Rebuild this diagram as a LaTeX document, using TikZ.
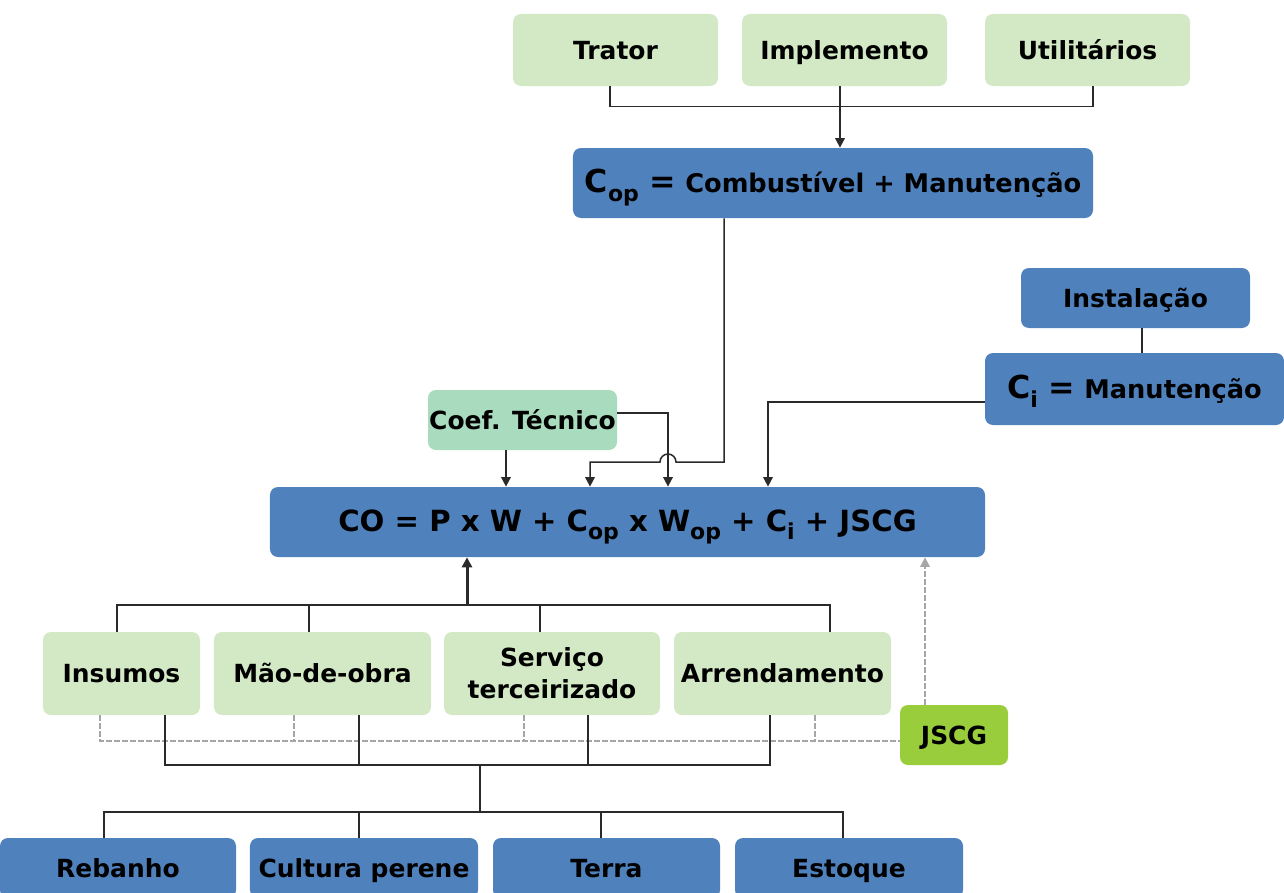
\documentclass[tikz,border=0pt]{standalone}
\usepackage{fontspec}
\setmainfont{DejaVu Sans}
\usepackage{tikz}
\usetikzlibrary{arrows.meta,positioning}
\definecolor{boxblue}{HTML}{4F81BD}
\definecolor{boxgreen}{HTML}{D3E9C6}
\definecolor{coefgreen}{HTML}{A9DBBE}
\definecolor{jscggreen}{HTML}{9ACD3C}
\definecolor{linegray}{HTML}{2A2A2A}
\newcommand{\idx}[1]{\raisebox{-0.5ex}{\fontsize{12.5}{12}\selectfont #1}}
\tikzset{
  base/.style={rounded corners=1.6mm,inner sep=0pt,align=center,
    font=\fontsize{14.2}{18}\selectfont\bfseries},
  oneline/.style={base,text height=2.35ex,text depth=0.4ex},
  bluebox/.style={oneline,fill=boxblue},
  greenbox/.style={oneline,fill=boxgreen},
  link/.style={draw=linegray,line width=0.3mm},
  arr/.style={link,-{Triangle[length=1.9mm,width=1.9mm]}},
  dashlink/.style={draw=gray!70,line width=0.3mm,dash pattern=on 1.2mm off 0.4mm}
}

\begin{document}
\begin{tikzpicture}[x=0.2mm,y=-0.2mm]
  \useasboundingbox (0,0) rectangle (1284,893);
  % machines
  \node[greenbox,minimum width=41mm,minimum height=14.4mm] (trator) at (615.5,50) {Trator};
  \node[greenbox,minimum width=41mm,minimum height=14.4mm] (implemento) at (844.5,50) {Implemento};
  \node[greenbox,minimum width=41mm,minimum height=14.4mm] (utilitarios) at (1087.5,50) {Utilitários};
  \node[bluebox,minimum width=104mm,minimum height=14mm,font=\fontsize{14.6}{17}\selectfont\bfseries] (cop) at (833,183)
    {{\fontsize{18}{17}\selectfont C\idx{op} =} Combustível + Manutenção};
  % installations
  \node[bluebox,minimum width=45.8mm,minimum height=12mm] (instal) at (1135.5,298) {Instalação};
  \node[bluebox,minimum width=59.8mm,minimum height=14.4mm,font=\fontsize{14.6}{17}\selectfont\bfseries] (ci) at (1134.5,389)
    {{\fontsize{18}{17}\selectfont C\idx{i} =} Manutenção};
  \node[oneline,fill=coefgreen,minimum width=37.8mm,minimum height=12mm] (coef) at (522.5,420) {Coef. Técnico};
  % main equation
  \node[bluebox,minimum width=143mm,minimum height=14mm,font=\fontsize{16.6}{17}\selectfont\bfseries] (co) at (627.5,522)
    {CO = P x W + C\idx{op} x W\idx{op} + C\idx{i} + JSCG};
  % costs
  \node[greenbox,minimum width=31.4mm,minimum height=16.6mm] (insumos) at (121.5,673.5) {Insumos};
  \node[greenbox,minimum width=43.4mm,minimum height=16.6mm] (maoobra) at (322.5,673.5) {Mão-de-obra};
  \node[base,fill=boxgreen,minimum width=43.2mm,minimum height=16.6mm] (servico) at (552,673.5) {Serviço\\terceirizado};
  \node[greenbox,minimum width=43.4mm,minimum height=16.6mm] (arrend) at (782.5,673.5) {Arrendamento};
  \node[oneline,fill=jscggreen,minimum width=21.6mm,minimum height=12mm] (jscg) at (954,735) {JSCG};
  % capital
  \node[bluebox,minimum width=47.2mm,minimum height=12mm] (rebanho) at (118,868) {Rebanho};
  \node[bluebox,minimum width=45.6mm,minimum height=12mm] (cultura) at (364,868) {Cultura perene};
  \node[bluebox,minimum width=45.4mm,minimum height=12mm] (terra) at (606.5,868) {Terra};
  \node[bluebox,minimum width=45.6mm,minimum height=12mm] (estoque) at (849,868) {Estoque};

  % top connectors
  \draw[link] (trator.south -| 610,0) -- ++(0,20) -| (utilitarios.south -| 1093,0);
  \draw[arr] (implemento.south -| 840,0) -- (cop.north -| 840,0);
  \draw[arr] (cop.south -| 724,0) -- (724,462) -- (676,462)
    arc[start angle=0,end angle=180,radius=1.6mm] -- (590,462) -- (co.north -| 590,0);
  \draw[arr] (coef.south -| 506,0) -- (co.north -| 506,0);
  \draw[arr] (coef.east |- 0,413) -| (co.north -| 668,0);
  \draw[link] (instal.south -| 1142,0) -- (ci.north -| 1142,0);
  \draw[arr] (ci.west |- 0,402) -| (co.north -| 768,0);

  % cost connectors
  \coordinate (joint) at (467,605);
  \draw[link] (insumos.north -| 117,0) |- (joint) -| (arrend.north -| 830,0);
  \draw[link] (maoobra.north -| 309,0) -- (309,605);
  \draw[link] (servico.north -| 540,0) -- (540,605);
  \draw[link,line width=0.6mm,-{Triangle[length=2mm,width=2mm]}] (joint) -- (co.south -| joint);

  % JSCG dashed lines
  \draw[dashlink] (insumos.south -| 100,0) |- (jscg.west |- 0,741);
  \foreach \x/\n in {294/maoobra,524/servico,815/arrend}
    \draw[dashlink] (\n.south -| \x,0) -- (\x,741);
  \draw[dashlink,-{Triangle[length=1.9mm,width=1.9mm]}] (jscg.north -| 925,0) -- (co.south -| 925,0);

  % capital connectors
  \coordinate (mid) at (480,765);
  \coordinate (split) at (480,812);
  \draw[link] (insumos.south -| 165,0) |- (mid) -| (arrend.south -| 770,0);
  \draw[link] (maoobra.south -| 359,0) -- (359,765);
  \draw[link] (servico.south -| 588,0) -- (588,765);
  \draw[link] (mid) -- (split);
  \draw[link] (rebanho.north -| 104,0) |- (split) -| (estoque.north -| 843,0);
  \draw[link] (cultura.north -| 359,0) -- (359,812);
  \draw[link] (terra.north -| 601,0) -- (601,812);
\end{tikzpicture}
\end{document}
